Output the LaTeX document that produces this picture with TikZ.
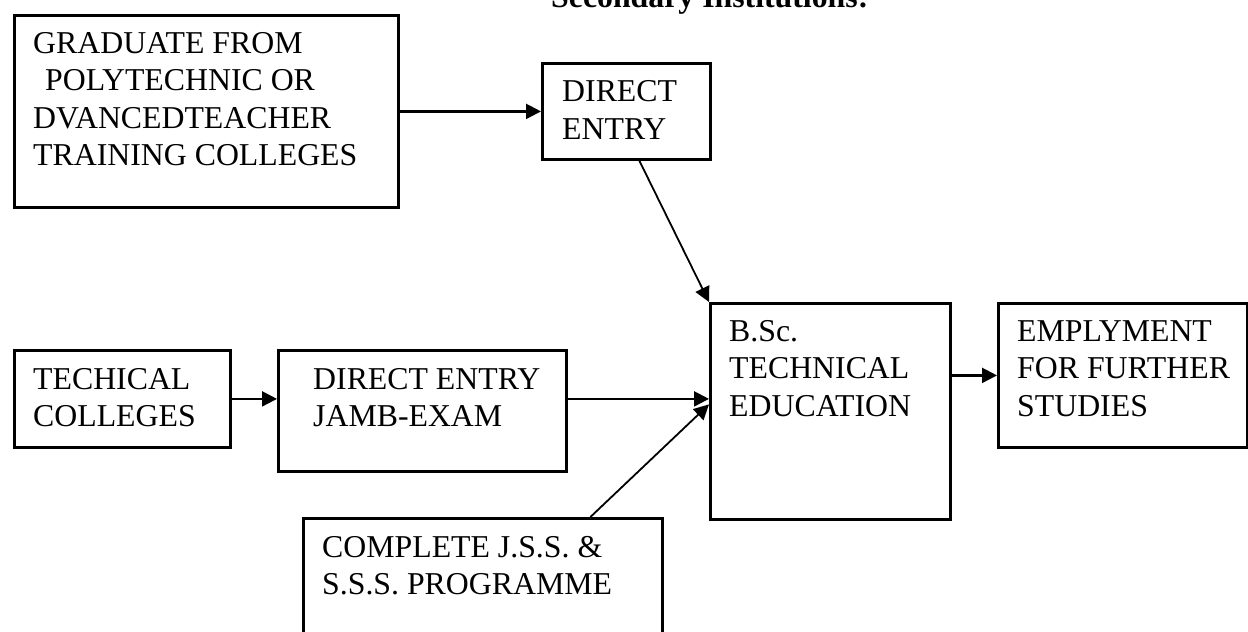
\documentclass[tikz,border=0pt]{standalone}
\usepackage{fontspec}
\setmainfont{Liberation Serif}
\usetikzlibrary{arrows.meta,calc}
\begin{document}
\begin{tikzpicture}[x=1pt,y=-1pt,
  box/.style={draw,line width=2.8pt,rectangle,inner sep=0pt,anchor=north west},
  txt/.style={anchor=base west,align=left,inner sep=0pt,font=\fontsize{31.8}{37.5}\selectfont},
  conn/.style={line width=2.2pt,-{Triangle[length=15pt,width=15pt]}},
  thin/.style={line width=1.8pt,-{Triangle[length=15pt,width=15pt]}}]
\useasboundingbox (0,0) rectangle (1248,632);
% title (cut off at the top edge)
\node[anchor=base west,inner sep=0pt,font=\fontsize{31.8}{37.5}\selectfont\bfseries] (title) at (551,7.5) {Secondary Institutions:};
% boxes (text nodes are placed by the baseline of their last line)
\node[box,minimum width=384pt,minimum height=192pt] (grad) at (13,14) {};
\node[txt] (gradt) at (33,165.5) {GRADUATE FROM\\\hspace*{12pt}POLYTECHNIC OR\\DVANCEDTEACHER\\TRAINING COLLEGES};
\node[box,minimum width=168pt,minimum height=96pt] (de) at (541,62) {};
\node[txt] (det) at (562,139) {DIRECT\\ENTRY};
\node[box,minimum width=216pt,minimum height=97pt] (tc) at (13,349) {};
\node[txt] (tct) at (33,426.5) {TECHICAL\\COLLEGES};
\node[box,minimum width=288pt,minimum height=121pt] (jamb) at (277,349) {};
\node[txt] (jambt) at (313,426.5) {DIRECT ENTRY\\JAMB-EXAM};
\node[box,minimum width=240pt,minimum height=216pt] (bsc) at (709,302) {};
\node[txt] (bsct) at (729,416) {B.Sc.\\TECHNICAL\\EDUCATION};
\node[box,minimum width=249pt,minimum height=144pt] (emp) at (997,302) {};
\node[txt] (empt) at (1017,416) {EMPLYMENT\\FOR FURTHER\\STUDIES};
\node[box,minimum width=359pt,minimum height=130pt] (comp) at (302,517) {};
\node[txt] (compt) at (322,594.5) {COMPLETE J.S.S. \&\\S.S.S. PROGRAMME};
% connectors
\draw[conn] (grad.east) -- (de.west);
\draw[thin] ([xshift=13pt]de.south) -- (bsc.north west);
\draw[conn] (tc.east) -- (tc.east -| jamb.west);
\draw[conn] (tc.east -| jamb.east) -- (tc.east -| bsc.west);
\draw[thin] ([xshift=107.5pt]comp.north) -- ([yshift=7pt]bsc.west);
\draw[conn] (emp.west -| bsc.east) -- (emp.west);
\end{tikzpicture}
\end{document}
